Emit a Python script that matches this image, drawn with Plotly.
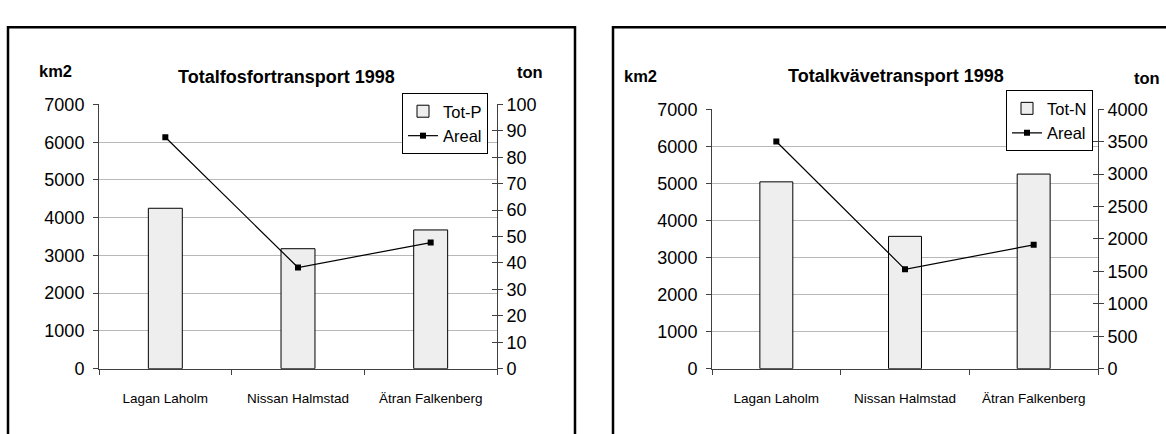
import plotly.graph_objects as go

# Data
categories = ["Lagan Laholm", "Nissan Halmstad", "Ätran Falkenberg"]
areal_km2 = [6130, 2680, 3340]
tot_p_ton = [60.7, 45.4, 52.5]
tot_n_ton = [2880, 2040, 3000]

W, H = 1166, 434
FONT = "Arial, Liberation Sans, sans-serif"
AXIS_COL = "#404040"
GRID_COL = "#b8b8b8"
BAR_FILL = "#eeeeee"


def px_x(v):
    return v / W


def px_y(v):
    return (H - v) / H


fig = go.Figure()

# --- Panel 1: phosphorus ---
fig.add_trace(go.Bar(
    x=categories, y=tot_p_ton, name="Tot-P",
    marker=dict(color=BAR_FILL, line=dict(color="#000000", width=1)),
    xaxis="x", yaxis="y", legend="legend",
))
fig.add_trace(go.Scatter(
    x=categories, y=areal_km2, name="Areal", mode="lines+markers",
    line=dict(color="#000000", width=1.2),
    marker=dict(symbol="square", size=6, color="#000000"),
    xaxis="x", yaxis="y2", legend="legend",
))
fig.add_trace(go.Scatter(x=[], y=[], xaxis="x", yaxis="y5", showlegend=False))

# --- Panel 2: nitrogen ---
fig.add_trace(go.Bar(
    x=categories, y=tot_n_ton, name="Tot-N",
    marker=dict(color=BAR_FILL, line=dict(color="#000000", width=1)),
    xaxis="x2", yaxis="y3", legend="legend2",
))
fig.add_trace(go.Scatter(
    x=categories, y=areal_km2, name="Areal", mode="lines+markers",
    line=dict(color="#000000", width=1.2),
    marker=dict(symbol="square", size=6, color="#000000"),
    xaxis="x2", yaxis="y4", legend="legend2",
))
fig.add_trace(go.Scatter(x=[], y=[], xaxis="x2", yaxis="y6", showlegend=False))

tick_font = dict(family=FONT, size=18, color="#000000")
cat_font = dict(family=FONT, size=13.5, color="#000000")

dom_y1 = [px_y(376), px_y(99)]
dom_y2 = [px_y(376), px_y(104)]


def xaxis_cfg(domain, anchor):
    return dict(
        domain=domain, anchor=anchor, type="category",
        showline=True, linecolor=AXIS_COL, linewidth=1,
        ticks="outside", tickson="boundaries", ticklen=5, tickcolor=AXIS_COL,
        tickfont=cat_font, ticklabelstandoff=17, showgrid=False, zeroline=False,
        fixedrange=True,
    )


def right_axis(domain, anchor, rng, dtick):
    return dict(
        domain=domain, anchor=anchor, side="right", range=rng, dtick=dtick,
        showline=True, linecolor=AXIS_COL, linewidth=1,
        ticks="outside", ticklen=5, tickcolor=AXIS_COL,
        tickfont=tick_font, ticklabelstandoff=0,
        showgrid=False, zeroline=False, fixedrange=True,
    )


def left_axis(overlay, anchor, rng, dtick):
    return dict(
        overlaying=overlay, anchor=anchor, side="left", range=rng, dtick=dtick,
        showline=True, linecolor=AXIS_COL, linewidth=1,
        ticks="outside", ticklen=5, tickcolor=AXIS_COL,
        tickfont=tick_font, ticklabelstandoff=5,
        showgrid=True, gridcolor=GRID_COL, gridwidth=1,
        zeroline=False, fixedrange=True,
    )


def inner_ticks(overlay, anchor, rng, dtick):
    return dict(
        overlaying=overlay, anchor=anchor, side="right", range=rng, dtick=dtick,
        showline=False, ticks="inside", ticklen=5, tickcolor=AXIS_COL,
        showticklabels=False, showgrid=False, zeroline=False, fixedrange=True,
    )


legend_style = dict(
    xanchor="right", yanchor="top",
    bgcolor="#ffffff", bordercolor="#000000", borderwidth=1,
    font=dict(family=FONT, size=16.5), itemwidth=30, tracegroupgap=0,
)

fig.update_layout(
    width=W, height=H,
    margin=dict(l=0, r=0, t=0, b=0),
    paper_bgcolor="#ffffff", plot_bgcolor="rgba(0,0,0,0)",
    font=dict(family=FONT, color="#000000"),
    bargap=0.744,
    xaxis=xaxis_cfg([px_x(99), px_x(497)], "y"),
    xaxis2=xaxis_cfg([px_x(712), px_x(1098)], "y3"),
    yaxis=right_axis(dom_y1, "x", [0, 100], 10),
    yaxis2=left_axis("y", "x", [0, 7000], 1000),
    yaxis5=inner_ticks("y", "x", [0, 100], 10),
    yaxis3=right_axis(dom_y2, "x2", [0, 4000], 500),
    yaxis4=left_axis("y3", "x2", [0, 7000], 1000),
    yaxis6=inner_ticks("y3", "x2", [0, 4000], 500),
    legend=dict(x=px_x(488), y=px_y(87), **legend_style),
    legend2=dict(x=px_x(1093), y=px_y(84), **legend_style),
    showlegend=True,
)

# Titles and unit labels
labels = [
    ("Totalfosfortransport 1998", 286, 70, 18),
    ("km2", 55, 64, 16.5),
    ("ton", 530, 65, 16.5),
    ("Totalkvävetransport 1998", 896, 69, 18),
    ("km2", 640, 69, 16.5),
    ("ton", 1147, 71, 16.5),
]
for text, cx, cy, size in labels:
    fig.add_annotation(
        text=f"<b>{text}</b>", xref="paper", yref="paper",
        x=px_x(cx), y=px_y(cy), xanchor="center", yanchor="middle",
        showarrow=False, font=dict(family=FONT, size=size, color="#000000"),
    )

# Panel frames
fig.add_shape(type="rect", xref="paper", yref="paper",
              x0=px_x(8), x1=px_x(575), y0=px_y(450), y1=px_y(18),
              line=dict(color="#000000", width=2.5), layer="above")
fig.add_shape(type="rect", xref="paper", yref="paper",
              x0=px_x(613), x1=px_x(1180), y0=px_y(450), y1=px_y(18),
              line=dict(color="#000000", width=2.5), layer="above")

fig.write_html("out.html")
